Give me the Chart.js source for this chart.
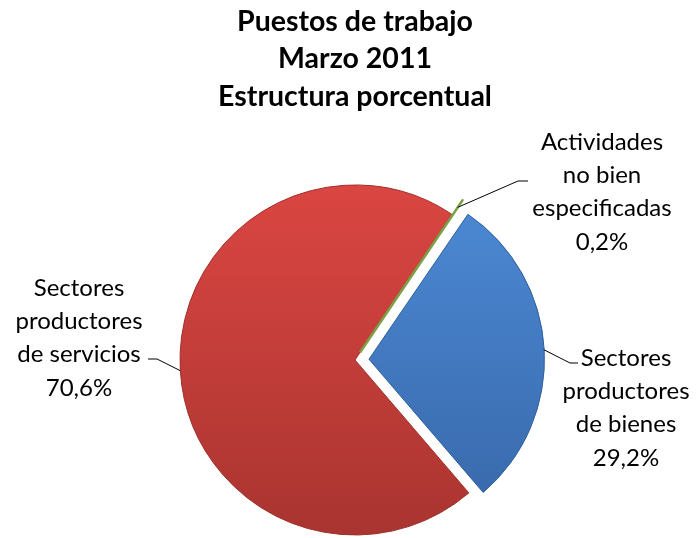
<!DOCTYPE html>
<html>
<head>
<meta charset="utf-8">
<script src="https://cdn.jsdelivr.net/npm/chart.js@4.4.1/dist/chart.umd.min.js"></script>
<style>
  html, body { margin: 0; padding: 0; background: #fff; overflow: hidden; }
  #wrap { position: relative; width: 696px; height: 538px; }
</style>
</head>
<body>
<div id="wrap"><canvas id="pie"></canvas></div>
<script>
// data
const categories = ["Sectores productores de bienes", "Sectores productores de servicios", "Actividades no bien especificadas"];
const shares = [29.2, 70.6, 0.2];
const labelLines = [
  ["Sectores", "productores", "de bienes"],
  ["Sectores", "productores", "de servicios"],
  ["Actividades", "no bien", "especificadas"]
];
const titleLines = ["Puestos de trabajo", "Marzo 2011", "Estructura porcentual"];

const topColors = ["#4d8bd6", "#db4642", "#9cc05e"];
const bottomColors = ["#3766a8", "#a93430", "#74963f"];
const edgeColors = ["#315f9e", "#9e302c", "#7ba045"];

// label placement: text centre x, first line centre y, leader end point, elbow length
const labelLayout = [
  { x: 626, y: 358, end: [578, 363], elbow: -8 },
  { x: 79, y: 288, end: [148, 359], elbow: 9 },
  { x: 602, y: 142, end: [528, 181], elbow: -10 }
];

function sliceFill(ctx) {
  const i = ctx.dataIndex;
  const area = ctx.chart.chartArea;
  if (!area || i === undefined) return topColors[i || 0];
  const g = ctx.chart.ctx.createLinearGradient(0, area.top, 0, area.bottom);
  g.addColorStop(0, topColors[i]);
  g.addColorStop(1, bottomColors[i]);
  return g;
}

const fmt = v => v.toFixed(1).replace(".", ",") + "%";

const labelPlugin = {
  id: "sliceLabels",
  afterDatasetsDraw(chart) {
    const c = chart.ctx;
    const meta = chart.getDatasetMeta(0);
    c.save();
    c.font = "24px Lato";
    c.fillStyle = "#000";
    c.textAlign = "center";
    c.textBaseline = "middle";
    c.strokeStyle = "#000";
    c.lineWidth = 1;
    meta.data.forEach((arc, i) => {
      const p = arc.getProps(["x", "y", "startAngle", "endAngle", "outerRadius"], true);
      const off = (arc.options.offset || 0) / 4;
      const mid = (p.startAngle + p.endAngle) / 2;
      const r = p.outerRadius + off;
      const sx = p.x + Math.cos(mid) * r;
      const sy = p.y + Math.sin(mid) * r;
      const L = labelLayout[i];
      c.beginPath();
      c.moveTo(sx, sy);
      c.lineTo(L.end[0] + L.elbow, L.end[1]);
      c.lineTo(L.end[0], L.end[1]);
      c.stroke();
      const lines = labelLines[i].concat([fmt(shares[i])]);
      lines.forEach((t, k) => c.fillText(t, L.x, L.y + k * 33.3));
    });
    c.restore();
  }
};

new Chart(document.getElementById("pie"), {
  type: "pie",
  data: {
    labels: categories,
    datasets: [{
      data: shares,
      backgroundColor: sliceFill,
      borderColor: edgeColors,
      borderWidth: [1, 1, 2.5],
      offset: [56, 0, 36]
    }]
  },
  options: {
    responsive: true,
    maintainAspectRatio: false,
    animation: false,
    rotation: 34.3,
    radius: 175,
    layout: { padding: { left: 14 } },
    plugins: {
      legend: { display: false },
      tooltip: { enabled: false },
      title: {
        display: true,
        text: titleLines,
        color: "#000",
        font: { family: "Lato", size: 28.5, weight: "bold", lineHeight: "37.5px" },
        padding: { top: 3, bottom: 66.5 }
      }
    }
  },
  plugins: [labelPlugin]
});
</script>
</body>
</html>
